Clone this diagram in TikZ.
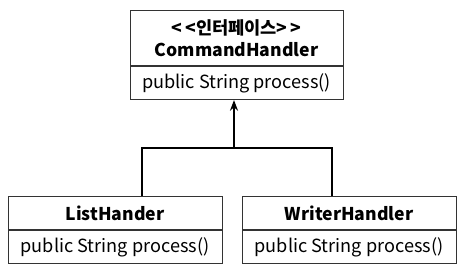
\documentclass[tikz,border=0pt]{standalone}
\usepackage{fontspec}
\setmainfont[Ligatures=NoCommon]{Noto Sans CJK KR}
\usetikzlibrary{arrows.meta}
\begin{document}
\begin{tikzpicture}[x=0.75pt,y=-0.75pt,
  box/.style={draw=black!80,line width=0.8pt,inner sep=0pt},
  txt/.style={inner sep=0pt,font=\fontsize{13.6}{15}\selectfont},
  btxt/.style={inner sep=0pt,font=\fontsize{13.2}{15}\selectfont\bfseries},
  link/.style={line width=2.2pt}]
\useasboundingbox (0,0) rectangle (465,279);
% top interface box
\node[box,minimum width=213*0.75pt,minimum height=89*0.75pt,anchor=north west] (top) at (130,10) {};
\draw[draw=black!80,line width=0.8pt] (130,66) coordinate (td1) -- (343,66) coordinate (td2);
\node[btxt] (tstereo) at (236.5,28) {{<}\kern2pt{<}인터페이스{>}\kern2pt{>}};
\node[btxt] (tname) at (236.5,50) {CommandHandler};
\node[txt] (tmeth) at (236.5,83) {public String process()};
% left box
\node[box,minimum width=214*0.75pt,minimum height=67*0.75pt,anchor=north west] (list) at (8,196) {};
\draw[draw=black!80,line width=0.8pt] (8,230) coordinate (ld1) -- (222,230) coordinate (ld2);
\node[btxt] (lname) at (115,213) {ListHander};
\node[txt] (lmeth) at (115,247) {public String process()};
% right box
\node[box,minimum width=214*0.75pt,minimum height=67*0.75pt,anchor=north west] (writer) at (242,196) {};
\draw[draw=black!80,line width=0.8pt] (242,230) coordinate (rd1) -- (456,230) coordinate (rd2);
\node[btxt] (wname) at (349,213) {WriterHandler};
\node[txt] (wmeth) at (349,247) {public String process()};
% connectors
\coordinate (lt) at (142,196);
\coordinate (rt) at (332,196);
\coordinate (j) at (234,148);
\draw[link] (lt) |- (j) -| (rt);
\draw[link,-{Stealth[length=8pt,width=6pt]}] (j) -- (j |- top.south);
\end{tikzpicture}
\end{document}
